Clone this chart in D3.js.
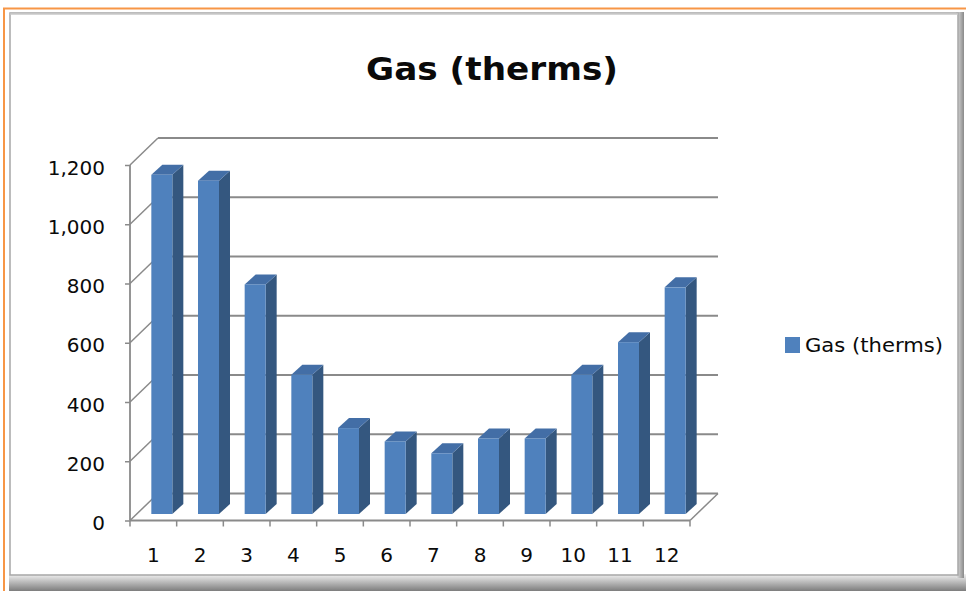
<!DOCTYPE html>
<html>
<head>
<meta charset="utf-8">
<script src="https://cdn.jsdelivr.net/npm/d3@7/dist/d3.min.js"></script>
<style>
  html, body { margin: 0; padding: 0; background: #ffffff; }
  svg { display: block; }
  text { font-family: "DejaVu Sans", Verdana, sans-serif; fill: #0a0a0a; }
</style>
</head>
<body>
<svg id="chart" width="966" height="591"></svg>
<script>
// ---- data ----
const chartTitle = "Gas (therms)";
const seriesName = "Gas (therms)";
const categories = ["1","2","3","4","5","6","7","8","9","10","11","12"];
const gasValues = [1145, 1125, 775, 470, 290, 245, 205, 255, 255, 470, 580, 765];
const yTickValues = [0, 200, 400, 600, 800, 1000, 1200];

const svg = d3.select("#chart");
const W = 966, H = 591;

// ---- frame ----
const defs = svg.append("defs");
const gBottom = defs.append("linearGradient").attr("id", "shadeBottom")
  .attr("x1", 0).attr("y1", 0).attr("x2", 0).attr("y2", 1);
gBottom.append("stop").attr("offset", "0%").attr("stop-color", "#f2f2f2");
gBottom.append("stop").attr("offset", "100%").attr("stop-color", "#7d7d7d");
const gRight = defs.append("linearGradient").attr("id", "shadeRight")
  .attr("x1", 0).attr("y1", 0).attr("x2", 1).attr("y2", 0);
gRight.append("stop").attr("offset", "0%").attr("stop-color", "#e6e6e6");
gRight.append("stop").attr("offset", "100%").attr("stop-color", "#8a8a8a");

svg.append("rect").attr("x", 0).attr("y", 0).attr("width", W).attr("height", H).attr("fill", "#ffffff");
// orange outer border
svg.append("line").attr("x1", 3).attr("x2", W).attr("y1", 8.5).attr("y2", 8.5)
  .attr("stroke", "#F79646").attr("stroke-width", 2);
svg.append("line").attr("x1", 4).attr("x2", 4).attr("y1", 8).attr("y2", H)
  .attr("stroke", "#F79646").attr("stroke-width", 2);
// inner chart-area frame with shadow
svg.append("rect").attr("x", 9).attr("y", 574).attr("width", W - 9).attr("height", H - 574)
  .attr("fill", "url(#shadeBottom)");
svg.append("rect").attr("x", 956).attr("y", 12).attr("width", 8).attr("height", 566)
  .attr("fill", "url(#shadeRight)");
svg.append("rect").attr("x", 10).attr("y", 13).attr("width", 948).attr("height", 562)
  .attr("fill", "#ffffff").attr("stroke", "#a6a6a6").attr("stroke-width", 1.5);
svg.append("line").attr("x1", 10).attr("x2", 958).attr("y1", 14).attr("y2", 14)
  .attr("stroke", "#c8c8c8").attr("stroke-width", 1.5);

// ---- scales ----
const left = 130, right = 690;
const depthX = 28, depthY = -27;          // wall depth offset
const xSlot = d3.scaleBand().domain(categories).range([left, right]).paddingInner(0).paddingOuter(0);
const xBar = d3.scaleBand().domain(categories).range([left, right]).paddingInner(0.55).paddingOuter(0.275);
const y = d3.scaleLinear().domain([0, 1200]).range([520.5, 165]);

const gridColor = "#8a8a8a";
const grid = svg.append("g");
// back wall gridlines
grid.selectAll("line.back").data(yTickValues).join("line")
  .attr("x1", left + depthX).attr("x2", right + depthX)
  .attr("y1", d => y(d) + depthY).attr("y2", d => y(d) + depthY)
  .attr("stroke", gridColor).attr("stroke-width", 1.8);
// side wall diagonals
grid.selectAll("line.side").data(yTickValues).join("line")
  .attr("x1", left).attr("x2", left + depthX)
  .attr("y1", d => y(d)).attr("y2", d => y(d) + depthY)
  .attr("stroke", gridColor).attr("stroke-width", 1.5);
// floor front edge & right edge
grid.append("line").attr("x1", left).attr("x2", right).attr("y1", y(0)).attr("y2", y(0))
  .attr("stroke", gridColor).attr("stroke-width", 1.8);
grid.append("line").attr("x1", right).attr("x2", right + depthX).attr("y1", y(0)).attr("y2", y(0) + depthY)
  .attr("stroke", gridColor).attr("stroke-width", 1.5);

// ---- bars ----
const fDX = 8.5, fDY = -6.5;    // bar front face offset into depth
const bDX = 11, bDY = -10;      // bar depth
const bars = svg.append("g");
categories.forEach((c, i) => {
  const v = gasValues[i];
  const x0 = xBar(c) + fDX, x1 = x0 + xBar.bandwidth();
  const yT = y(v) + fDY, yB = y(0) + fDY;
  const g = bars.append("g");
  g.append("polygon")
    .attr("points", [[x1, yT], [x1 + bDX, yT + bDY], [x1 + bDX, yB + bDY], [x1, yB]].join(" "))
    .attr("fill", "#34577f");
  g.append("polygon")
    .attr("points", [[x0, yT], [x1, yT], [x1 + bDX, yT + bDY], [x0 + bDX, yT + bDY]].join(" "))
    .attr("fill", "#436ea6");
  g.append("rect").attr("x", x0).attr("y", yT).attr("width", x1 - x0).attr("height", yB - yT)
    .attr("fill", "#4F81BD");
});

// ---- axes ----
const yAxis = svg.append("g").attr("transform", `translate(${left},0)`)
  .call(d3.axisLeft(y).tickValues(yTickValues).tickFormat(d3.format(",")).tickSize(5).tickPadding(20));
yAxis.select(".domain").attr("stroke", gridColor).attr("stroke-width", 1.8)
  .attr("d", `M-0,${y(1200)}V${y(0)}`);
yAxis.selectAll(".tick line").attr("stroke", gridColor).attr("stroke-width", 1.5);
yAxis.selectAll(".tick text").attr("font-size", 20).attr("font-family", "DejaVu Sans")
  .attr("fill", "#0a0a0a").attr("dy", "0.45em");

const xAxis = svg.append("g").attr("transform", `translate(0,${y(0)})`)
  .call(d3.axisBottom(xSlot).tickSize(0).tickPadding(27));
xAxis.select(".domain").remove();
xAxis.selectAll(".tick text").attr("font-size", 20).attr("font-family", "DejaVu Sans")
  .attr("fill", "#0a0a0a");
// tick marks at category boundaries
const boundaries = categories.map(c => xSlot(c)).concat([right]);
xAxis.selectAll("line.bound").data(boundaries).join("line").attr("class", "bound")
  .attr("x1", d => d).attr("x2", d => d).attr("y1", 0).attr("y2", 6)
  .attr("stroke", gridColor).attr("stroke-width", 1.5);

// ---- title ----
svg.append("text").attr("x", 492).attr("y", 80).attr("text-anchor", "middle")
  .attr("font-family", "DejaVu Sans").attr("font-weight", "bold").attr("font-size", 32)
  .attr("textLength", 252).attr("lengthAdjust", "spacingAndGlyphs")
  .attr("fill", "#000").text(chartTitle);

// ---- legend ----
const legend = svg.append("g").attr("transform", "translate(785,337)");
legend.append("rect").attr("x", 0).attr("y", 0).attr("width", 15).attr("height", 16).attr("fill", "#4F81BD");
legend.append("text").attr("x", 20).attr("y", 15).attr("font-size", 20)
  .attr("font-family", "DejaVu Sans").attr("textLength", 138).attr("lengthAdjust", "spacingAndGlyphs")
  .text(seriesName);
</script>
</body>
</html>
